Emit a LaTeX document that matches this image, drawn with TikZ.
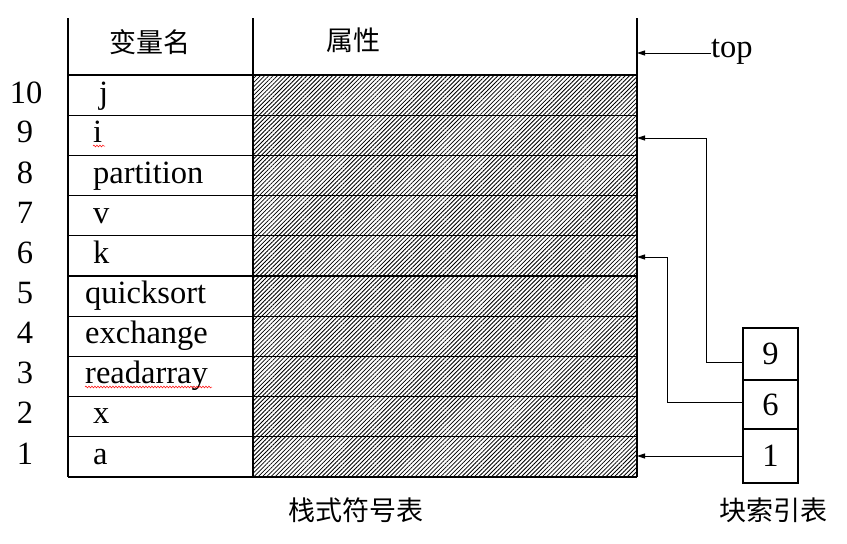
\documentclass[tikz,border=0pt]{standalone}
\usepackage{fontspec}
\setmainfont{Liberation Serif}
\newfontfamily\cjk{Noto Sans CJK SC}
\usetikzlibrary{arrows.meta,patterns.meta,decorations.pathmorphing}
\tikzset{
  tbl/.style={line width=1.1pt},
  lbl/.style={font=\fontsize{32.5}{36}\selectfont, inner sep=0pt},
  numlbl/.style={font=\fontsize{32.5}{36}\selectfont, inner sep=0pt, anchor=base},
  namelbl/.style={font=\fontsize{32.5}{36}\selectfont, inner sep=0pt, anchor=base west},
  cjklbl/.style={font=\cjk\fontsize{27}{30}\selectfont, inner sep=0pt},
  cell/.style={draw, line width=1.1pt, minimum width=55pt, inner sep=0pt, font=\fontsize{32.5}{36}\selectfont},
  arr/.style={line width=0.9pt, -{Triangle[length=8pt,width=5pt]}},
  squiggle/.style={red, line width=0.5pt, decorate, decoration={snake, amplitude=0.9pt, segment length=3pt}}
}
\begin{document}
\begin{tikzpicture}[x=1pt,y=-1pt]
\useasboundingbox (0,0) rectangle (847,544);
% hatched attribute column
\fill[pattern={Lines[angle=45,distance=3pt,line width=0.8pt]}] (253,75) rectangle (637,477);
% grid
\draw[tbl] (68,18) -- (68,477);
\draw[tbl] (253,18) -- (253,477);
\draw[tbl] (637,18) -- (637,477);
\foreach \k in {0,...,10}{
  \draw[tbl] (68,{75+40.2*\k}) -- (637,{75+40.2*\k});
}
% headers
\node[cjklbl] (h1) at (150,42) {变量名};
\node[cjklbl] (h2) at (353,40) {属性};
\node[cjklbl] (cap1) at (356,510) {栈式符号表};
\node[cjklbl] (cap2) at (773,510) {块索引表};
% row numbers
\node[numlbl] (r10) at (26,103.2) {10};
\node[numlbl] (r9) at (25,142.4) {9};
\node[numlbl] (r8) at (25,183.6) {8};
\node[numlbl] (r7) at (25,223.8) {7};
\node[numlbl] (r6) at (25,263.5) {6};
\node[numlbl] (r5) at (25,303.5) {5};
\node[numlbl] (r4) at (25,343.5) {4};
\node[numlbl] (r3) at (25,383.6) {3};
\node[numlbl] (r2) at (25,423.8) {2};
\node[numlbl] (r1) at (25,464) {1};
% names
\node[namelbl] (n10) at (99,103.2) {j};
\node[namelbl] (n9) at (93,142.4) {i};
\node[namelbl] (n8) at (93,183.6) {partition};
\node[namelbl] (n7) at (93,223.8) {v};
\node[namelbl] (n6) at (93,263.5) {k};
\node[namelbl] (n5) at (85,303.5) {quicksort};
\node[namelbl] (n4) at (85,343.5) {exchange};
\node[namelbl] (n3) at (85,383.6) {readarray};
\node[namelbl] (n2) at (93,423.8) {x};
\node[namelbl] (n1) at (93,464) {a};
% spell-check squiggles
\draw[squiggle] (93,146) -- (105,146);
\draw[squiggle] (85,387) -- (212,387);
% block index table
\node[cell, minimum height=52pt] (b9) at (770.5,354) {9};
\node[cell, minimum height=49pt] (b6) at (770.5,404.5) {6};
\node[cell, minimum height=54pt] (b1) at (770.5,456) {1};
% targets
\coordinate (t9) at (637,138);
\coordinate (t6) at (637,257);
\coordinate (t1) at (637,456);
\coordinate (ttop) at (637,53);
% connectors
\draw[arr] ([yshift=-8pt]b9.west) -- ++(-36,0) |- (t9);
\draw[arr] ([yshift=2.5pt]b6.west) -- ++(-75,0) |- (t6);
\draw[arr] (b1.west) -- (t1);
\node[lbl, anchor=base west] (top) at (711,57) {top};
\draw[arr] (top.west |- ttop) -- (ttop);
\end{tikzpicture}
\end{document}
